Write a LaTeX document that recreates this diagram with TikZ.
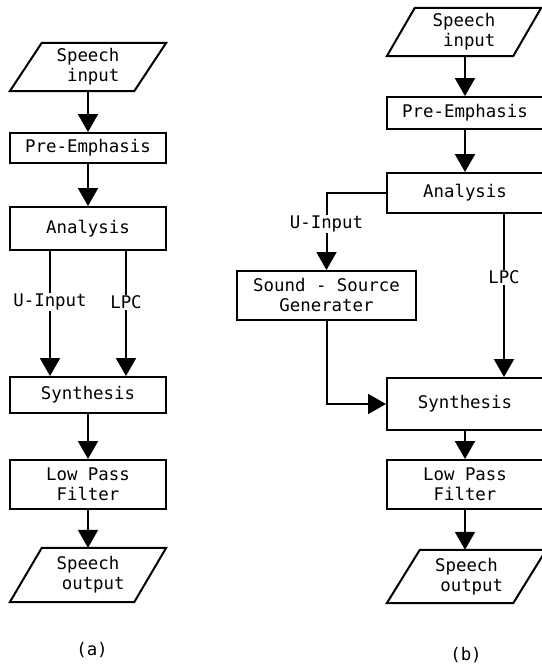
\documentclass[tikz,border=0pt]{standalone}
\usepackage{fontspec}
\setmonofont{DejaVu Sans Mono}
\usetikzlibrary{arrows.meta}
\newcommand\drawpara[2]{\draw[line width=2pt,line join=miter] ([xshift=-#2pt]#1.south west) -- ([xshift=-#2pt]#1.south east) -- ([xshift=#2pt]#1.north east) -- ([xshift=#2pt]#1.north west) -- cycle;}
\begin{document}
\begin{tikzpicture}[x=1pt,y=-1pt,
  every node/.style={font=\ttfamily\fontsize{17.4}{20}\selectfont},
  box/.style={draw,line width=2pt,minimum width=156pt,inner sep=0pt,align=center},
  io/.style={minimum width=124pt,inner sep=0pt,align=center},
  conn/.style={line width=2pt,-{Triangle[width=20pt,length=18pt]}},
  lbl/.style={fill=white,inner sep=1pt}]
\useasboundingbox (0,0) rectangle (541,664);
% ---------- (a) ----------
\node[io,minimum height=48pt] (sina) at (88,67) {Speech\\\hphantom{i}input};
\drawpara{sina}{16}
\node[box,minimum height=30pt] (prea) at (88,148) {Pre-Emphasis};
\node[box,minimum height=43pt] (ana) at (88,228.5) {Analysis};
\node[box,minimum height=36pt] (syna) at (88,395) {Synthesis};
\node[box,minimum height=49pt] (lpfa) at (88,484.5) {Low Pass\\Filter};
\node[io,minimum height=54pt] (souta) at (88,575) {Speech\\\hphantom{i}output};
\drawpara{souta}{16}
\node (capa) at (92,650) {(a)};
\coordinate (ua) at (50,0);
\coordinate (la) at (126,0);
\draw[conn] (sina) -- (prea);
\draw[conn] (prea) -- (ana);
\draw[conn] (ana.south -| ua) -- node[lbl,pos=0.41] {U-Input} (syna.north -| ua);
\draw[conn] (ana.south -| la) -- node[lbl,pos=0.41] {LPC} (syna.north -| la);
\draw[conn] (syna) -- (lpfa);
\draw[conn] (lpfa) -- (souta);
% ---------- (b) ----------
\node[io,minimum width=126pt,minimum height=48pt] (sinb) at (464,32) {Speech\\\hphantom{i}input};
\drawpara{sinb}{14}
\node[box,minimum height=32pt] (preb) at (465,113) {Pre-Emphasis};
\node[box,minimum height=40pt] (anb) at (465,193) {Analysis};
\node[box,minimum width=179pt,minimum height=49pt] (ssg) at (326.5,295.5) {Sound - Source\\Generater};
\node[box,minimum height=52pt] (synb) at (465,404) {Synthesis};
\node[box,minimum height=49pt] (lpfb) at (465,484.5) {Low Pass\\Filter};
\node[io,minimum width=126pt,minimum height=53pt] (soutb) at (466.5,576.5) {Speech\\\hphantom{i}output};
\drawpara{soutb}{16.5}
\node (capb) at (466,655) {(b)};
\coordinate (lb) at (504,0);
\draw[conn] (sinb.south -| preb) -- (preb);
\draw[conn] (preb) -- (anb);
\draw[conn] (anb.west) -| node[lbl,pos=0.7] {U-Input} (ssg.north);
\draw[conn] (ssg.south) |- (synb.west);
\draw[conn] (anb.south -| lb) -- node[lbl,pos=0.39] {LPC} (synb.north -| lb);
\draw[conn] (synb) -- (lpfb);
\draw[conn] (lpfb) -- (soutb.north -| lpfb);
\end{tikzpicture}
\end{document}
